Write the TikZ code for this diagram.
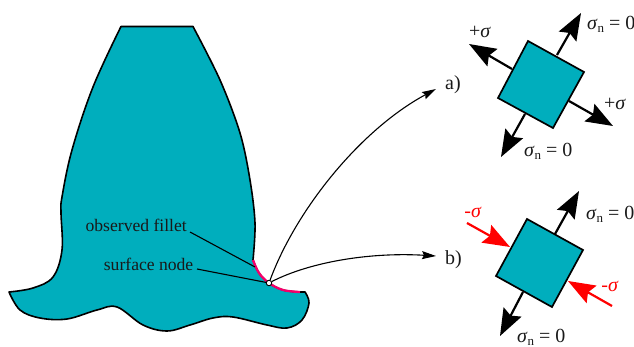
\documentclass[tikz,border=0pt]{standalone}
\usepackage{fontspec}
\setmainfont{Liberation Serif}
\usetikzlibrary{arrows.meta}
\definecolor{teal1}{HTML}{00AEBD}
\definecolor{fil}{HTML}{F5006A}
\newcommand{\sg}{\textit{σ}}
\newcommand{\sgn}{\textit{σ}\raisebox{-0.35ex}{\fontsize{13}{14}\selectfont n} = 0}
\tikzset{
 x=1pt,y=-1pt,
 lab/.style={font=\fontsize{17.6}{19}\selectfont,inner sep=0pt,text=black!90},
 sm/.style={font=\fontsize{20}{22}\selectfont,inner sep=0pt,text=black!90},
 sq/.style={draw=black,fill=teal1,line width=1.7pt,line join=miter},
 big/.style={line width=2.2pt,-{Stealth[length=27pt,width=20pt,inset=4pt]}},
 bigr/.style={big,draw=red,color=red},
 lead/.style={line width=1.1pt},
 curv/.style={line width=1.1pt,-{Stealth[length=14pt,width=8pt,inset=2pt]}},
}
\begin{document}
\begin{tikzpicture}
\useasboundingbox (0,0) rectangle (634,347);
% tooth
\filldraw[fill=teal1,draw=black,line width=1.6pt,line join=round]
 (121,26.5) -- (193,26.5)
 -- plot[smooth,tension=0.55] coordinates {(193,26.5) (220,80) (240,133) (250,180) (255,223) (253,260)}
 -- plot[smooth,tension=0.6] coordinates {(253,260) (259,273) (269,283) (283,290) (300,292)}
 -- (305,292)
 -- plot[smooth,tension=0.6] coordinates {(305,292) (309,303) (302,320) (287,328) (267,325) (233,317) (213,318) (190,325) (167,331) (143,325) (117,307) (97,310) (67,319) (40,318) (20,310) (9,292)}
 -- plot[smooth,tension=0.6] coordinates {(9,292) (33,288) (53,277) (62,250) (61,213) (62,197) (72,150) (93,87) (121,26.5)}
 -- cycle;
\draw[fil,line width=2.3pt] plot[smooth,tension=0.6] coordinates {(253,260) (259,273) (269,283) (283,290) (300,292)};
% nodes
\node[circle,draw=black,fill=white,line width=0.9pt,minimum size=5.5pt,inner sep=0pt] (sn) at (269,283) {};
\node[lab,anchor=east] (of) at (187,225) {observed fillet};
\node[lab,anchor=east] (su) at (193.5,264) {surface node};
\coordinate (ofe) at (190,232);
\coordinate (ofp) at (255,267);
\coordinate (sue) at (197,269);
\draw[lead] (ofe) -- (ofp);
\draw[lead] (sue) -- (sn);
\node[sm,anchor=west] (a) at (445,85) {a)};
\node[sm,anchor=west] (b) at (445,260) {b)};
\coordinate (at) at (436,89);
\coordinate (bt) at (436,256);
\draw[curv] (sn) .. controls (296,210) and (360,130) .. (at);
\draw[curv] (sn) .. controls (310,262) and (370,252) .. (bt);
% square a
\draw[big] (557,55) -- (581,13);
\draw[big] (512,69) -- (469,44);
\draw[big] (569,101) -- (613,126);
\draw[big] (525,114) -- (501,157);
\draw[sq] (528,41) -- (584,72) -- (553,128) -- (498,98) -- cycle;
\node[sm,anchor=center] (pa) at (480,32) {+\sg};
\node[sm,anchor=center] (pb) at (615,104) {+\sg};
\node[sm,anchor=west] (na) at (587,24) {\sgn};
\node[sm,anchor=west] (nb) at (524,151) {\sgn};
% square b
\draw[big] (555,234) -- (579,191);
\draw[big] (523,292) -- (500,336);
\draw[bigr] (467,223) -- (510,247);
\draw[bigr] (612,306) -- (568,281);
\draw[sq] (527,219) -- (583,250) -- (552,307) -- (496,276) -- cycle;
\node[sm,anchor=center,text=red] (mc) at (473,212) {-\sg};
\node[sm,anchor=center,text=red] (md) at (610,286) {-\sg};
\node[sm,anchor=west] (nc) at (586,214) {\sgn};
\node[sm,anchor=west] (nd) at (517,337) {\sgn};
\end{tikzpicture}
\end{document}
